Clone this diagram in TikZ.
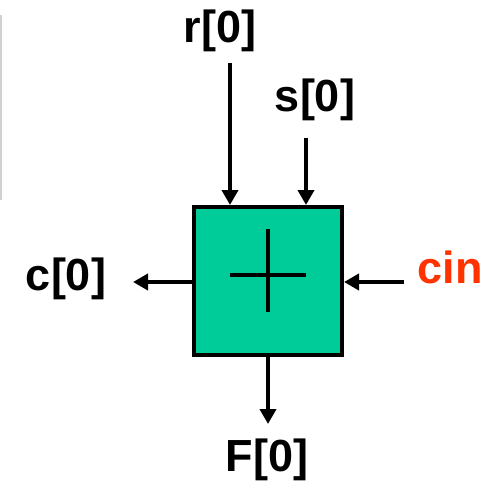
\documentclass[tikz,border=0pt]{standalone}
\usepackage{fontspec}
\setmainfont{Liberation Sans}
\usetikzlibrary{arrows.meta}
\definecolor{boxgreen}{RGB}{0,204,153}
\definecolor{cinred}{RGB}{255,51,0}
\definecolor{edgegray}{RGB}{208,208,208}
\begin{document}
\begin{tikzpicture}[x=1pt,y=-1pt,
  lbl/.style={anchor=base,inner sep=0pt,font=\fontsize{45}{54}\selectfont\bfseries},
  adder/.style={draw=black,line width=4pt,fill=boxgreen,minimum width=148pt,minimum height=148pt,inner sep=0pt},
  wire/.style={line width=4pt,-{Triangle[length=15pt,width=16pt]}},
  plusline/.style={line width=4pt}]
\useasboundingbox (0,0) rectangle (495,483);
\draw[edgegray,line width=2pt] (1,15) -- (1,200);
\node[adder] (box) at (268,281) {};
\draw[plusline] (230,275) -- (306,275);
\draw[plusline] (268,229) -- (268,312);
\node[lbl] (r) at (220,42) {r[0]};
\node[lbl] (s) at (315,111) {s[0]};
\node[lbl] (c) at (66,290) {c[0]};
\node[lbl,text=cinred] (cin) at (450,283) {cin};
\node[lbl] (F) at (267,471) {F[0]};
\coordinate (rtop) at (230,63);
\coordinate (stop) at (306,138);
\coordinate (cend) at (133,282);
\coordinate (cinstart) at (404,282);
\coordinate (fend) at (268,424);
\draw[wire] (rtop) -- (rtop |- box.north);
\draw[wire] (stop) -- (stop |- box.north);
\draw[wire] (box.west |- cend) -- (cend);
\draw[wire] (cinstart) -- (box.east |- cinstart);
\draw[wire] (box.south -| fend) -- (fend);
\end{tikzpicture}
\end{document}
